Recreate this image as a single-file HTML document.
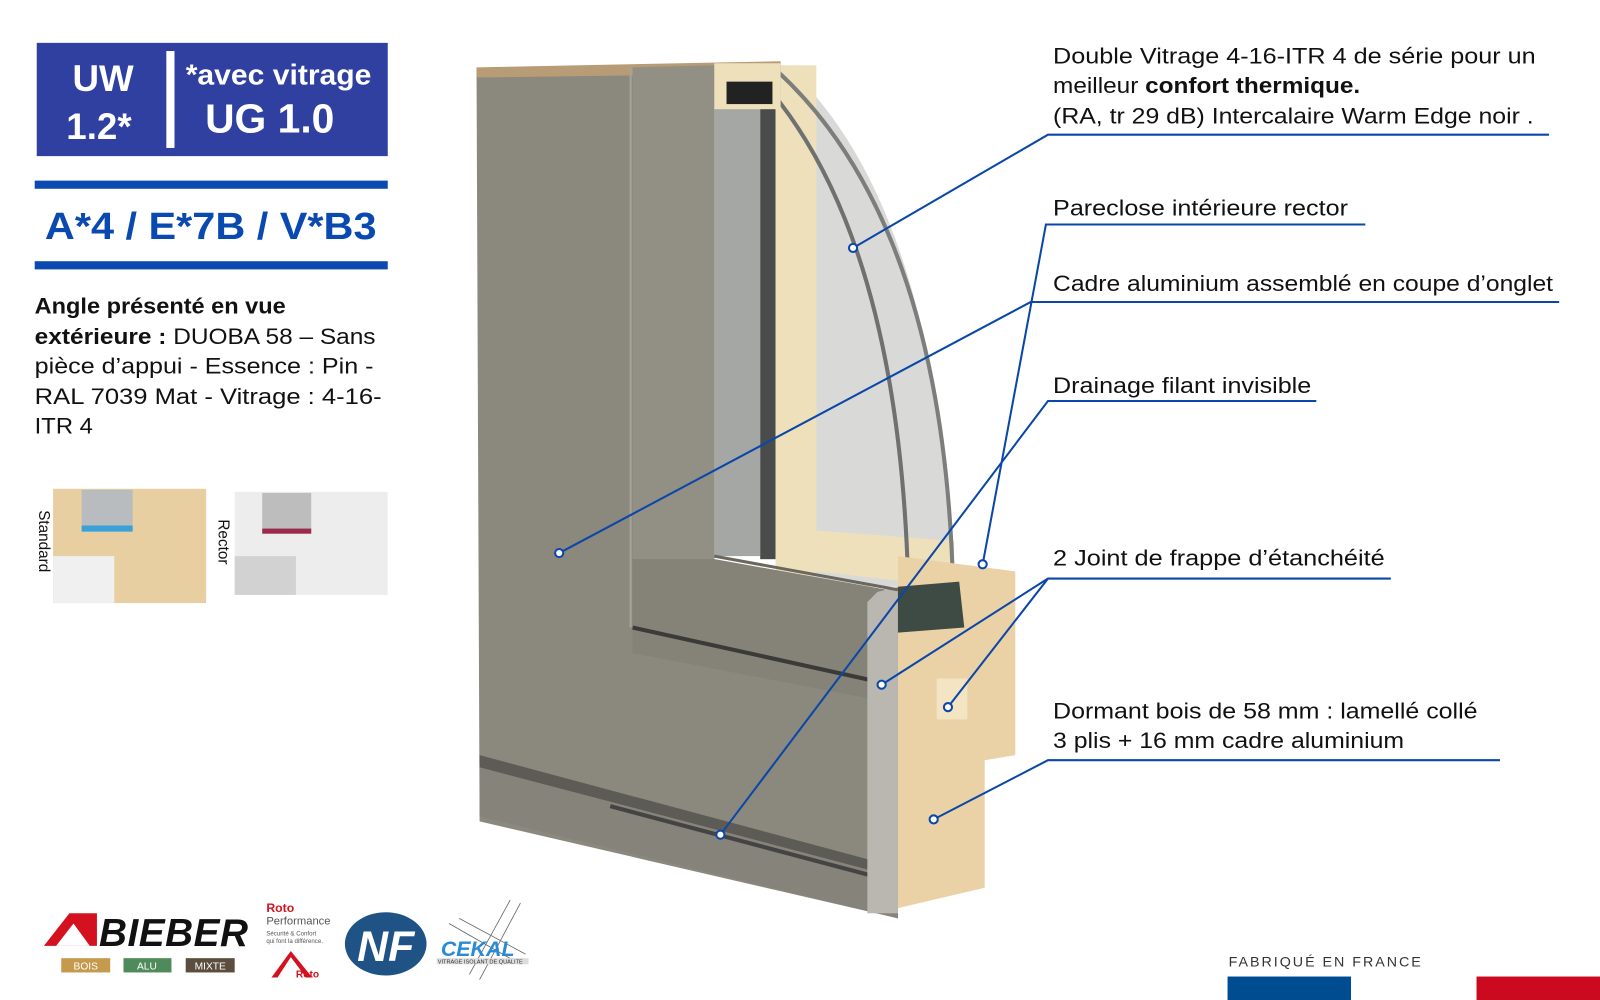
<!DOCTYPE html>
<html><head><meta charset="utf-8">
<style>
html,body{margin:0;padding:0;background:#fff;width:1600px;height:1000px;overflow:hidden}
svg{display:block}
text{font-family:"Liberation Sans",sans-serif}
</style></head><body>
<svg width="1600" height="1000" viewBox="0 0 1568 980" xmlns="http://www.w3.org/2000/svg">
<!-- Left header box -->
<rect x="36" y="42" width="344" height="111" fill="#2f40a0"/>
<rect x="163" y="50" width="8" height="95" fill="#fff"/>
<text x="101" y="89" fill="#fff" font-size="36" font-weight="bold" text-anchor="middle">UW</text>
<text x="97" y="136" fill="#fff" font-size="36" font-weight="bold" text-anchor="middle">1.2*</text>
<text x="182" y="83" fill="#fff" font-size="28" font-weight="bold" textLength="182" lengthAdjust="spacingAndGlyphs">*avec vitrage</text>
<text x="201" y="130" fill="#fff" font-size="40" font-weight="bold">UG 1.0</text>
<rect x="34" y="177" width="346" height="8" fill="#0a4ab0"/>
<rect x="34" y="256" width="346" height="8" fill="#0a4ab0"/>
<text x="44" y="234" fill="#0a4ab0" font-size="37" font-weight="bold" textLength="325" lengthAdjust="spacingAndGlyphs">A*4 / E*7B / V*B3</text>
<g font-size="21.5" fill="#111">
<text x="34" y="307" textLength="246" lengthAdjust="spacingAndGlyphs"><tspan font-weight="bold">Angle présenté en vue</tspan></text>
<text x="34" y="337" textLength="334" lengthAdjust="spacingAndGlyphs"><tspan font-weight="bold">extérieure :</tspan> DUOBA 58 – Sans</text>
<text x="34" y="366" textLength="332" lengthAdjust="spacingAndGlyphs">pièce d’appui - Essence : Pin -</text>
<text x="34" y="396" textLength="340" lengthAdjust="spacingAndGlyphs">RAL 7039 Mat - Vitrage : 4-16-</text>
<text x="34" y="425" textLength="57" lengthAdjust="spacingAndGlyphs">ITR 4</text>
</g>
<!-- thumbnails -->
<rect x="52" y="479" width="150" height="112" fill="#e8cfa2"/>
<rect x="52" y="545" width="60" height="46" fill="#f0f0f0"/>
<rect x="80" y="480" width="50" height="40" fill="#b9bcbe"/>
<rect x="80" y="515" width="50" height="6" fill="#3aa0d8"/>
<rect x="230" y="482" width="150" height="101" fill="#ededed"/>
<rect x="257" y="483" width="48" height="40" fill="#bdbdbd"/>
<rect x="257" y="518" width="48" height="5" fill="#9a2b4a"/>
<rect x="230" y="545" width="60" height="38" fill="#d2d2d2"/>
<text transform="translate(38,500) rotate(90)" font-size="15" fill="#111">Standard</text>
<text transform="translate(214,509) rotate(90)" font-size="15" fill="#111">Rector</text>

<!-- Window -->
<!-- glass/wood behind, bounded by arc -->
<path d="M760,64 L770,64 Q920,200 935,575 L760,575 Z" fill="#d9d9d7"/>
<rect x="760" y="64" width="40" height="500" fill="#efe0bc"/>
<polygon points="800,520 935,530 935,575 800,560" fill="#efe0bc"/>
<path d="M740,72 Q880,220 890,570" stroke="#6f7170" stroke-width="4" fill="none"/>
<path d="M762,70 Q925,220 934,575" stroke="#7c7e7c" stroke-width="4" fill="none"/>
<polygon points="467,68 765,61 765,105 700,105 700,548 880,580 880,900 470,805" fill="#8b887e"/>
<polygon points="467,66 765,60 765,72 467,76" fill="#b89c75"/>
<polygon points="620,66 700,64 700,548 620,548" fill="#928f85"/>
<polygon points="620,548 700,548 880,580 880,690 620,640" fill="#858278"/>
<polygon points="470,740 880,850 880,860 470,752" fill="#5d5b55"/>
<polygon points="470,752 880,860 880,900 470,800" fill="#85837a"/>
<line x1="598" y1="790" x2="880" y2="865" stroke="#444" stroke-width="4"/>
<line x1="620" y1="615" x2="860" y2="668" stroke="#3a3a38" stroke-width="4"/>
<line x1="618" y1="66" x2="618" y2="615" stroke="#a6a398" stroke-width="2"/>
<polygon points="700,105 745,105 745,545 700,545" fill="#a5a7a5"/>
<rect x="745" y="100" width="15" height="448" fill="#4a4c4c"/>
<rect x="700" y="62" width="65" height="45" fill="#efe0bc"/>
<rect x="712" y="80" width="45" height="22" fill="#222"/>
<polygon points="880,545 995,560 995,740 965,745 965,870 880,890" fill="#ead2a6"/>
<polygon points="860,580 880,575 880,895 850,895 850,590" fill="#b9b7b0"/>
<polygon points="880,575 940,570 945,615 880,620" fill="#3e4a44"/>
<rect x="918" y="665" width="30" height="40" fill="#f3e4c4"/>
<line x1="700" y1="545" x2="880" y2="578" stroke="#6a675f" stroke-width="3"/>

<!-- Connectors -->
<g stroke="#0a47a8" stroke-width="2" fill="none">
<polyline points="836,243 1027,132 1518,132"/>
<polyline points="963,553 1025,220 1338,220"/>
<polyline points="548,542 1010,296 1528,296"/>
<polyline points="706,818 1027,393 1290,393"/>
<polyline points="864,671 1027,567 1363,567"/>
<line x1="929" y1="693" x2="1027" y2="567"/>
<polyline points="915,803 1027,745 1470,745"/>
</g>
<g stroke="#0a47a8" stroke-width="2" fill="#fff">
<circle cx="836" cy="243" r="4"/><circle cx="963" cy="553" r="4"/><circle cx="548" cy="542" r="4"/>
<circle cx="706" cy="818" r="4"/><circle cx="864" cy="671" r="4"/><circle cx="929" cy="693" r="4"/>
<circle cx="915" cy="803" r="4"/>
</g>
<g font-size="21.5" fill="#111" lengthAdjust="spacingAndGlyphs">
<text x="1032" y="62" textLength="473" lengthAdjust="spacingAndGlyphs">Double Vitrage 4-16-ITR 4 de série pour un</text>
<text x="1032" y="91" textLength="301" lengthAdjust="spacingAndGlyphs">meilleur <tspan font-weight="bold">confort thermique.</tspan></text>
<text x="1032" y="121" textLength="471" lengthAdjust="spacingAndGlyphs">(RA, tr 29 dB) Intercalaire Warm Edge noir .</text>
<text x="1032" y="211" textLength="289" lengthAdjust="spacingAndGlyphs">Pareclose intérieure rector</text>
<text x="1032" y="285" textLength="490" lengthAdjust="spacingAndGlyphs">Cadre aluminium assemblé en coupe d’onglet</text>
<text x="1032" y="385" textLength="253" lengthAdjust="spacingAndGlyphs">Drainage filant invisible</text>
<text x="1032" y="554" textLength="325" lengthAdjust="spacingAndGlyphs">2 Joint de frappe d’étanchéité</text>
<text x="1032" y="704" textLength="416" lengthAdjust="spacingAndGlyphs">Dormant bois de 58 mm : lamellé collé</text>
<text x="1032" y="733" textLength="344" lengthAdjust="spacingAndGlyphs">3 plis + 16 mm cadre aluminium</text>
</g>

<!-- Logos -->
<polygon points="43,927 68,895 95,895 95,927" fill="#d4121f"/>
<polygon points="55,927 72,905 88,927" fill="#fff"/>
<text x="97" y="927" font-size="38" font-weight="bold" font-style="italic" fill="#111" textLength="146">BIEBER</text>
<rect x="60" y="939" width="48" height="14" fill="#c59a4c"/><text x="84" y="950" font-size="10" fill="#fff" text-anchor="middle">BOIS</text>
<rect x="121" y="939" width="47" height="14" fill="#4f8a5a"/><text x="144" y="950" font-size="10" fill="#fff" text-anchor="middle">ALU</text>
<rect x="182" y="939" width="48" height="14" fill="#5c4e3e"/><text x="206" y="950" font-size="10" fill="#fff" text-anchor="middle">MIXTE</text>
<text x="261" y="894" font-size="12" font-weight="bold" fill="#d4121f">Roto</text>
<text x="261" y="906" font-size="11" fill="#555">Performance</text>
<text x="261" y="917" font-size="6" fill="#555">Sécurité &amp; Confort</text>
<text x="261" y="924" font-size="6" fill="#555">qui font la différence.</text>
<polygon points="266,958 285,932 306,958 300,958 285,938 272,958" fill="#d4121f"/>
<text x="290" y="958" font-size="10" font-weight="bold" fill="#d4121f">Roto</text>
<ellipse cx="378" cy="925" rx="40" ry="31" fill="#1f5385"/>
<text x="378" y="942" font-size="42" font-weight="bold" font-style="italic" fill="#fff" text-anchor="middle">NF</text>
<g stroke="#666" stroke-width="0.8"><line x1="440" y1="905" x2="510" y2="945"/><line x1="450" y1="900" x2="515" y2="935"/><line x1="510" y1="885" x2="470" y2="960"/><line x1="500" y1="882" x2="460" y2="955"/></g>
<text x="432" y="937" font-size="21" font-weight="bold" font-style="italic" fill="#2a8ad6">CEKAL</text>
<rect x="428" y="939" width="90" height="6" fill="#ddd"/>
<text x="429" y="944" font-size="5.5" fill="#333">VITRAGE ISOLANT DE QUALITE</text>

<text x="1204" y="947" font-size="14" fill="#333" letter-spacing="1.6" textLength="190">FABRIQUÉ EN FRANCE</text>
<rect x="1203" y="957" width="121" height="23" fill="#004c91"/>
<rect x="1447" y="957" width="121" height="23" fill="#cc0a1f"/>
</svg>
</body></html>
